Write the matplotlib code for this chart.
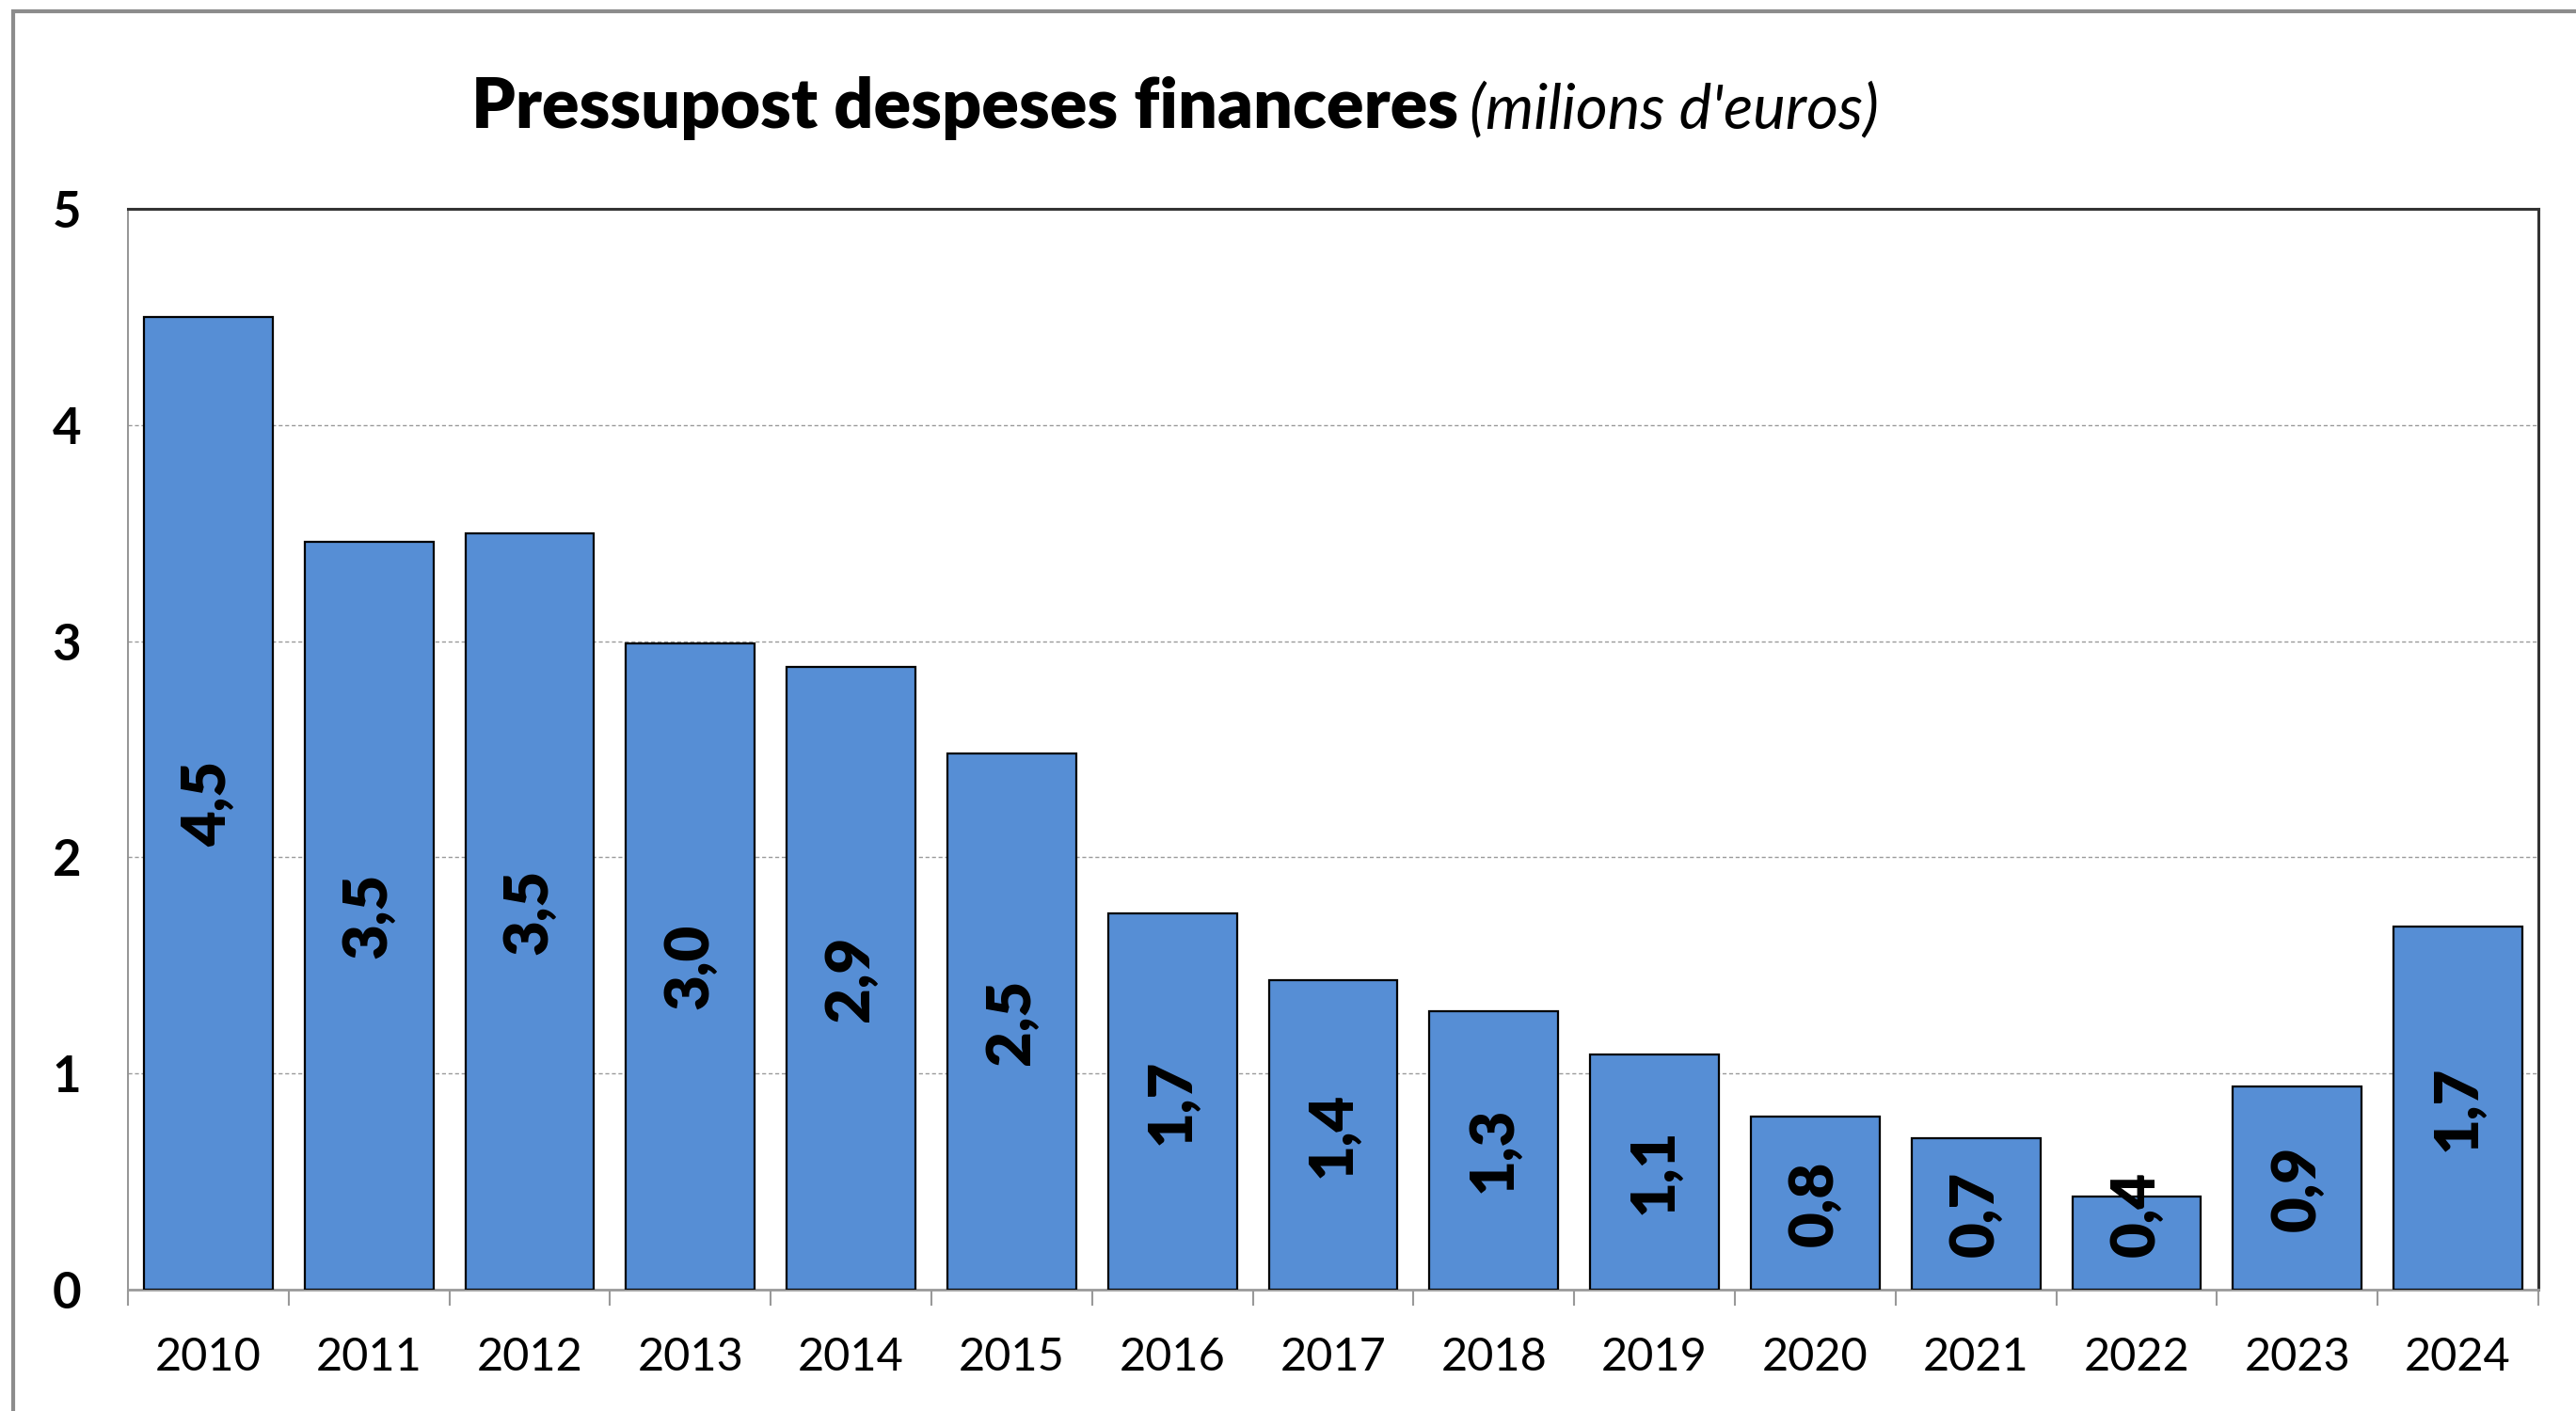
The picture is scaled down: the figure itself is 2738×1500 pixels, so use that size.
import matplotlib
matplotlib.use("Agg")
import matplotlib.pyplot as plt
import matplotlib.patches as mpatches
from matplotlib.ticker import FixedLocator, NullFormatter
import numpy as np

years = ["2010", "2011", "2012", "2013", "2014", "2015", "2016", "2017",
         "2018", "2019", "2020", "2021", "2022", "2023", "2024"]
values = [4.50, 3.46, 3.50, 2.99, 2.88, 2.48, 1.74, 1.43, 1.29, 1.09,
          0.80, 0.70, 0.43, 0.94, 1.68]
yticks = [0, 1, 2, 3, 4, 5]
title_main = "Pressupost despeses financeres"
title_unit = "(milions d'euros)"

plt.rcParams['font.family'] = ['Lato', 'DejaVu Sans']

W, H = 2738, 1500
fig = plt.figure(figsize=(W / 100, H / 100), dpi=100)
fig.patch.set_facecolor("white")

# outer frame (only top and left visible)
fig.add_artist(mpatches.Rectangle((14 / W, -0.5), 2.0, 1.5 - 12 / H,
                                  transform=fig.transFigure, fill=False,
                                  edgecolor="#8c8c8c", linewidth=3.0,
                                  clip_on=False))

ax = fig.add_axes([136 / W, 1 - 1371 / H, (2698 - 136) / W, (1371 - 222) / H])
x = np.arange(len(years))
ax.bar(x, values, width=0.8, color="#568ED5", edgecolor="black",
       linewidth=1.6, zorder=3)

ax.set_xlim(-0.5, len(years) - 0.5)
ax.set_ylim(0, 5)
ax.set_yticks(yticks)
ax.set_yticklabels([str(t) for t in yticks], fontsize=38, fontweight="bold")
ax.tick_params(axis="y", length=0, pad=36)

ax.set_xticks(x)
ax.set_xticklabels(years, fontsize=35)
ax.tick_params(axis="x", which="major", length=0, pad=36)
ax.xaxis.set_minor_locator(FixedLocator(np.arange(-0.5, len(years), 1.0)))
ax.xaxis.set_minor_formatter(NullFormatter())
ax.tick_params(axis="x", which="minor", length=12, width=1.5, color="#999999")

for yv in yticks[1:-1]:
    ax.axhline(yv, color="#9a9a9a", linestyle=(0, (3, 2)), linewidth=1.0, zorder=1)

ax.spines["top"].set_color("#333333")
ax.spines["top"].set_linewidth(2.2)
ax.spines["right"].set_color("#333333")
ax.spines["right"].set_linewidth(2.2)
ax.spines["left"].set_color("#8c8c8c")
ax.spines["left"].set_linewidth(1.3)
ax.spines["bottom"].set_color("#9a9a9a")
ax.spines["bottom"].set_linewidth(2.0)

for xi, v in zip(x, values):
    ypos = max(v / 2, 0.35)
    ax.text(xi, ypos, f"{v:.1f}".replace(".", ","), rotation=90,
            ha="center", va="center", fontsize=47, fontweight="heavy",
            color="black", zorder=4)

t1 = fig.text(501 / W, 1 - 136 / H, title_main, fontsize=53,
              fontweight="heavy", ha="left", va="baseline")
fig.canvas.draw()
bb = t1.get_window_extent()
fig.text((bb.x1 + 12) / W, 1 - 136 / H, title_unit, fontsize=47,
         fontstyle="italic", ha="left", va="baseline")

fig.savefig("out.png", dpi=100, facecolor="white")
